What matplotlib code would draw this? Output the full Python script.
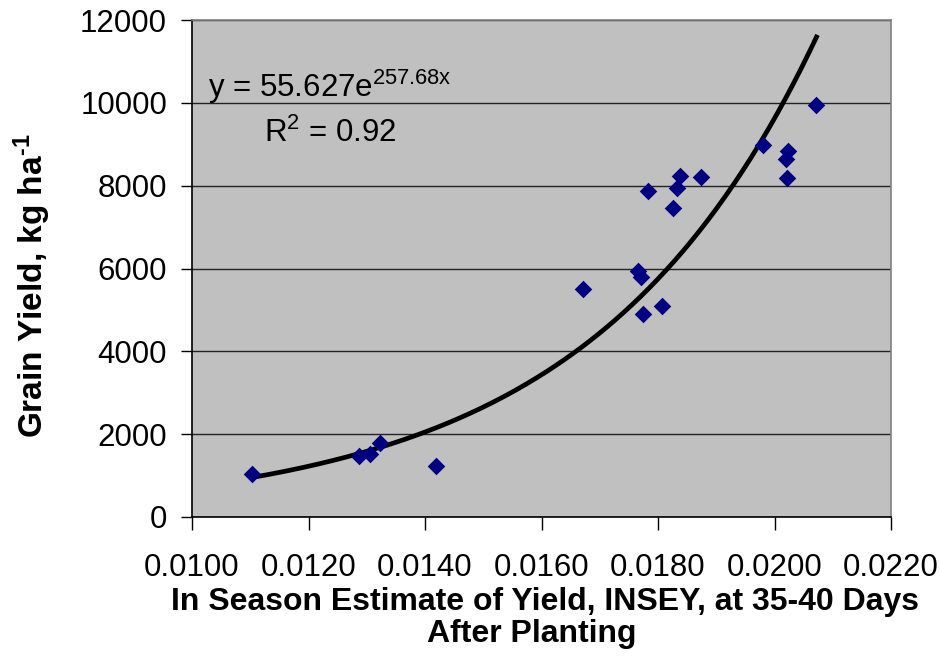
import numpy as np
import matplotlib
matplotlib.use("Agg")
import matplotlib.pyplot as plt

plt.rcParams['font.family'] = ['Liberation Sans', 'DejaVu Sans']
plt.rcParams['mathtext.fontset'] = 'custom'
plt.rcParams['mathtext.rm'] = 'Liberation Sans'
plt.rcParams['mathtext.it'] = 'Liberation Sans'
plt.rcParams['mathtext.bf'] = 'Liberation Sans:bold'

insey = [0.01103, 0.01287, 0.01306, 0.01323, 0.01418, 0.01672, 0.01766, 0.01770,
         0.01775, 0.01783, 0.01806, 0.01825, 0.01832, 0.01838, 0.01873, 0.01981,
         0.02019, 0.02023, 0.02021, 0.02072]
yield_kg = [1040, 1475, 1520, 1790, 1230, 5505, 5940, 5800,
            4905, 7860, 5095, 7460, 7940, 8240, 8200, 8985,
            8650, 8830, 8190, 9950]
fit_a = 55.627
fit_b = 257.68
x_ticks = [0.0100, 0.0120, 0.0140, 0.0160, 0.0180, 0.0200, 0.0220]
y_ticks = [0, 2000, 4000, 6000, 8000, 10000, 12000]

fig = plt.figure(figsize=(9.4, 6.56), dpi=100)
ax = fig.add_axes([0.2043, 0.2119, 0.7436, 0.7576])
ax.set_facecolor('#C0C0C0')
ax.set_xlim(0.0100, 0.0220)
ax.set_ylim(0, 12000)
ax.set_xticks(x_ticks)
ax.set_xticklabels([f"{v:.4f}" for v in x_ticks])
ax.set_yticks(y_ticks)
ax.set_yticklabels([str(v) for v in y_ticks])
ax.yaxis.grid(True, color='#222222', linewidth=1.0)
ax.set_axisbelow(True)
for s in ax.spines.values():
    s.set_color('#808080')
    s.set_linewidth(1.2)
ax.spines['left'].set_color('black')
ax.spines['bottom'].set_color('black')
ax.tick_params(axis='y', direction='out', length=8, width=1, colors='black',
               labelsize=22.5, pad=10)
ax.tick_params(axis='x', direction='out', length=9, width=1, colors='black',
               labelsize=22.5, pad=17)

xf = np.linspace(min(insey), max(insey), 200)
ax.plot(xf, fit_a * np.exp(fit_b * xf), color='black', linewidth=3.4, zorder=3)
ax.scatter(insey, yield_kg, marker='D', s=80, color='#000080', zorder=4, linewidths=0)

ax.text(0.01027, 10130, r"y = 55.627e$^{\mathregular{257.68x}}$", fontsize=22.5,
        ha='left', va='baseline')
ax.text(0.01124, 9050, r"R$^{\mathregular{2}}$ = 0.92", fontsize=22.5,
        ha='left', va='baseline')

ax.set_ylabel("Grain Yield, kg ha$^{\\mathbf{\u2010}\\mathbf{1}}$", fontsize=24, fontweight='bold')
ax.yaxis.set_label_coords(-0.199, 0.465)
fig.text(0.58, 0.083, "In Season Estimate of Yield, INSEY, at 35-40 Days",
         ha='center', va='center', fontsize=23, fontweight='bold')
fig.text(0.566, 0.033, "After Planting",
         ha='center', va='center', fontsize=23, fontweight='bold')

fig.savefig("out.png", dpi=100)
